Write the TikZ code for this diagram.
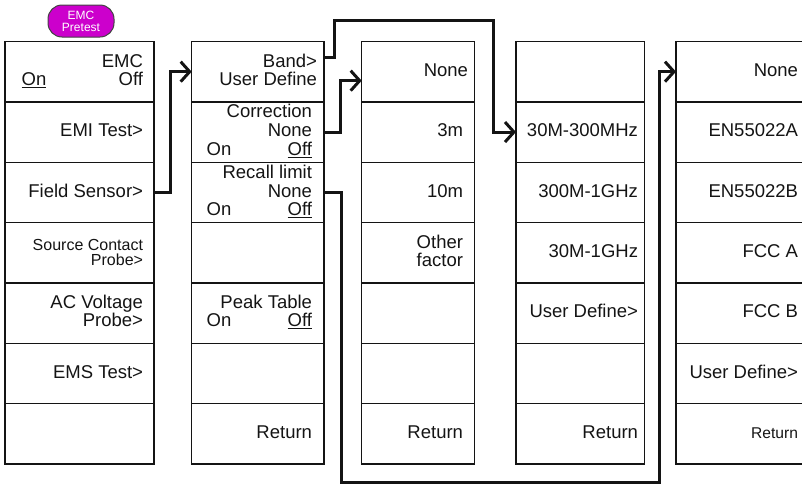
\documentclass[tikz,border=0pt]{standalone}
\usepackage{fontspec}
\setmainfont{Liberation Sans}
\usetikzlibrary{arrows.meta}
\definecolor{emcfill}{RGB}{204,0,204}
\definecolor{ink}{RGB}{20,20,20}
\begin{document}
\begin{tikzpicture}[x=1pt,y=-1pt,
  cell/.style={draw=ink, line width=1.3pt, inner sep=0pt, outer sep=0pt, minimum height=60.357pt, anchor=north west},
  txt/.style={inner sep=0pt, outer sep=0pt, font=\fontsize{18.5}{18.5}\selectfont, text=ink, anchor=base east},
  ltxt/.style={txt, anchor=base west},
  stxt/.style={txt, font=\fontsize{16}{16}\selectfont},
  rtxt/.style={txt, font=\fontsize{15.6}{15.6}\selectfont},
  conn/.style={draw=ink, line width=3pt, line join=miter, -{Straight Barb[length=9pt,width=20pt]}},
  pill/.style={draw=ink!80, line width=1pt, fill=emcfill, rounded corners=14pt, minimum width=66pt, minimum height=32pt, inner sep=0pt, text=white, align=center, font=\fontsize{12}{12}\selectfont}
]
\useasboundingbox (0,0) rectangle (802,485);

% oval label
\node[pill] (emc) at (81,21) {EMC\\Pretest};

% cells
\foreach \c/\x/\w in {1/5/149, 2/191.7/132.3, 3/361.7/112.6, 4/516/128.3, 5/676/128}
  \foreach \r in {1,...,7}
    \node[cell, minimum width=\w pt] (c\c-\r) at (\x, {41.5+60.357*(\r-1)}) {};

% column 1 texts
\node[txt] (t1a) at (143,67.3) {EMC};
\node[txt] (t1b) at (143,85.3) {Off};
\node[ltxt] (t1c) at (21.7,85.3) {\underline{On}};
\node[txt] (t1d) at (143,136.6) {EMI Test>};
\node[txt] (t1e) at (143,197.0) {Field Sensor>};
\node[stxt] (t1f) at (143,250) {Source Contact};
\node[stxt] (t1g) at (143,265.2) {Probe>};
\node[txt] (t1h) at (143,308.7) {AC Voltage};
\node[txt] (t1i) at (143,326.7) {Probe>};
\node[txt] (t1j) at (143,378.1) {EMS Test>};

% column 2 texts
\node[txt] (t2a) at (317,67.3) {Band>};
\node[txt] (t2b) at (317,85.3) {User Define};
\node[txt] (t2c) at (312,117.8) {Correction};
\node[txt] (t2d) at (312,136.6) {None};
\node[ltxt] (t2e) at (206.7,155.4) {On};
\node[txt] (t2f) at (312,155.4) {\underline{Off}};
\node[txt] (t2g) at (312,178.2) {Recall limit};
\node[txt] (t2h) at (312,197.0) {None};
\node[ltxt] (t2i) at (206.7,215.8) {On};
\node[txt] (t2j) at (312,215.8) {\underline{Off}};
\node[txt] (t2k) at (312,308.7) {Peak Table};
\node[ltxt] (t2l) at (206.7,326.7) {On};
\node[txt] (t2m) at (312,326.7) {\underline{Off}};
\node[txt] (t2n) at (312,438.4) {Return};

% column 3 texts
\node[txt] (t3a) at (468,76.3) {None};
\node[txt] (t3b) at (463,136.6) {3m};
\node[txt] (t3c) at (463,197.0) {10m};
\node[txt] (t3d) at (463,248.3) {Other};
\node[txt] (t3e) at (463,266.3) {factor};
\node[txt] (t3f) at (463,438.4) {Return};

% column 4 texts
\node[txt] (t4a) at (638,136.6) {30M-300MHz};
\node[txt] (t4b) at (638,197.0) {300M-1GHz};
\node[txt] (t4c) at (638,257.3) {30M-1GHz};
\node[txt] (t4d) at (638,317.7) {User Define>};
\node[txt] (t4e) at (638,438.4) {Return};

% column 5 texts
\node[txt] (t5a) at (798,76.3) {None};
\node[txt] (t5b) at (798,136.6) {EN55022A};
\node[txt] (t5c) at (798,197.0) {EN55022B};
\node[txt] (t5d) at (798,257.3) {FCC A};
\node[txt] (t5e) at (798,317.7) {FCC B};
\node[txt] (t5f) at (798,378.1) {User Define>};
\node[rtxt] (t5g) at (798,438.4) {Return};

% connectors
\draw[conn] (c1-3.east) -- ++(16.7,0) |- (c2-1.west);
\draw[conn] ([yshift=13.7pt]c2-1.east) -- ++(10,0) |- ++(159.3,-37) |- (c4-2.west);
\draw[conn] (c2-2.east) -- ++(16,0) |- ([yshift=-9pt]c3-1.west);
\draw[conn] (c2-3.east) -- ++(17.7,0) |- ++(317.3,290.3) |- (c5-1.west);
\end{tikzpicture}
\end{document}
